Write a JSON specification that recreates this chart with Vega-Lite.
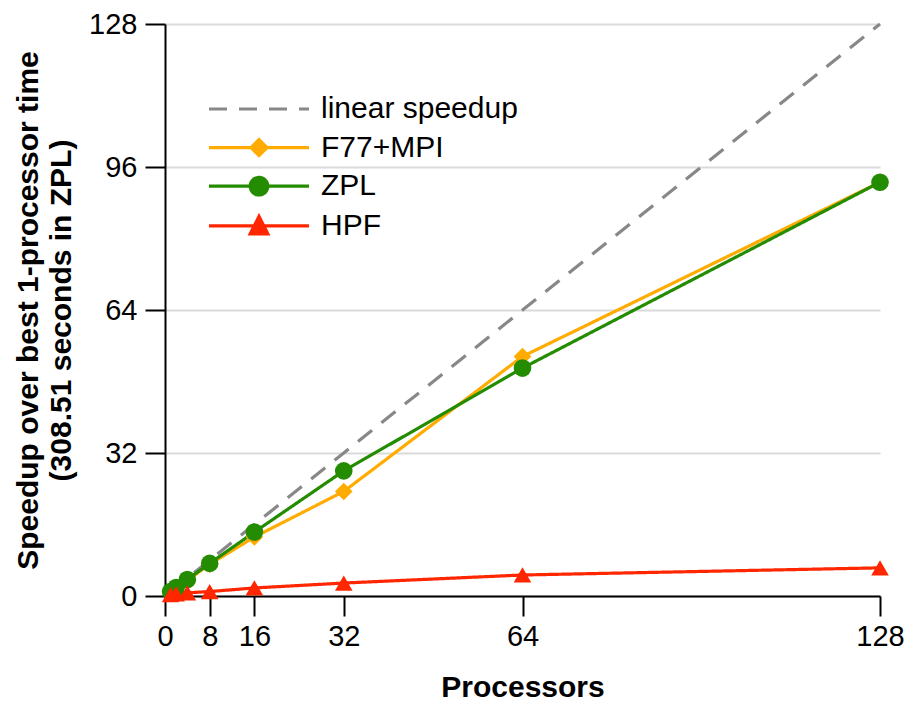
{
  "$schema": "https://vega.github.io/schema/vega-lite/v6.json",
  "width": 715,
  "height": 572,
  "autosize": {"type": "none"},
  "padding": {"left": 165, "top": 24, "right": 28, "bottom": 107},
  "background": "white",
  "config": {
    "view": {"stroke": null},
    "font": "Liberation Sans",
    "axis": {
      "labelFont": "Liberation Sans",
      "titleFont": "Liberation Sans",
      "labelFontSize": 29,
      "titleFontSize": 30,
      "titleFontWeight": "bold",
      "labelColor": "black",
      "titleColor": "black",
      "domainColor": "black",
      "domainWidth": 2,
      "tickColor": "black",
      "tickWidth": 2,
      "tickSize": 20
    }
  },
  "data": {
    "values": [
      {"p": 1, "s": 1, "series": "linear speedup"},
      {"p": 2, "s": 2, "series": "linear speedup"},
      {"p": 4, "s": 4, "series": "linear speedup"},
      {"p": 8, "s": 8, "series": "linear speedup"},
      {"p": 16, "s": 16, "series": "linear speedup"},
      {"p": 32, "s": 32, "series": "linear speedup"},
      {"p": 64, "s": 64, "series": "linear speedup"},
      {"p": 128, "s": 128, "series": "linear speedup"},
      {"p": 1, "s": 1.0, "series": "F77+MPI"},
      {"p": 2, "s": 1.9, "series": "F77+MPI"},
      {"p": 4, "s": 3.5, "series": "F77+MPI"},
      {"p": 8, "s": 7.1, "series": "F77+MPI"},
      {"p": 16, "s": 13.2, "series": "F77+MPI"},
      {"p": 32, "s": 23.4, "series": "F77+MPI"},
      {"p": 64, "s": 53.6, "series": "F77+MPI"},
      {"p": 128, "s": 92.6, "series": "F77+MPI"},
      {"p": 1, "s": 1.0, "series": "ZPL"},
      {"p": 2, "s": 1.9, "series": "ZPL"},
      {"p": 4, "s": 3.7, "series": "ZPL"},
      {"p": 8, "s": 7.3, "series": "ZPL"},
      {"p": 16, "s": 14.3, "series": "ZPL"},
      {"p": 32, "s": 28.0, "series": "ZPL"},
      {"p": 64, "s": 51.0, "series": "ZPL"},
      {"p": 128, "s": 92.6, "series": "ZPL"},
      {"p": 1, "s": 0.3, "series": "HPF"},
      {"p": 2, "s": 0.5, "series": "HPF"},
      {"p": 4, "s": 0.7, "series": "HPF"},
      {"p": 8, "s": 1.0, "series": "HPF"},
      {"p": 16, "s": 1.8, "series": "HPF"},
      {"p": 32, "s": 2.9, "series": "HPF"},
      {"p": 64, "s": 4.7, "series": "HPF"},
      {"p": 128, "s": 6.3, "series": "HPF"}
    ]
  },
  "layer": [
    {
      "mark": {"type": "line", "strokeWidth": 3.2},
      "encoding": {
        "x": {
          "field": "p", "type": "quantitative",
          "scale": {"domain": [0, 128], "nice": false, "zero": true},
          "axis": {"values": [0, 8, 16, 32, 64, 128], "grid": false, "title": "Processors", "labelPadding": 6, "titlePadding": 21, "labelFlush": false}
        },
        "y": {
          "field": "s", "type": "quantitative",
          "scale": {"domain": [0, 128], "nice": false},
          "axis": {"values": [0, 32, 64, 96, 128], "grid": true, "gridColor": "#dadada", "gridWidth": 2, "title": ["Speedup over best 1-processor time", "(308.51 seconds in ZPL)"], "titleLineHeight": 33, "labelPadding": 8, "titlePadding": 12, "labelFlush": false}
        },
        "color": {
          "field": "series", "type": "nominal",
          "scale": {"domain": ["linear speedup", "F77+MPI", "ZPL", "HPF"], "range": ["#888888", "#ffab00", "#248c00", "#ff2600"]},
          "sort": ["linear speedup", "F77+MPI", "ZPL", "HPF"],
          "legend": {
            "orient": "none",
            "legendX": 72,
            "legendY": 63,
            "title": null,
            "padding": 0,
            "symbolSize": 1600,
            "symbolStrokeWidth": 3.2,
            "labelFontSize": 30,
            "labelFont": "Liberation Sans",
            "labelColor": "black",
            "labelLimit": 400,
            "labelOffset": 40,
            "rowPadding": 1.6,
            "encode": {
              "symbols": {
                "update": {
                  "shape": {"signal": "datum.value === 'F77+MPI' ? 'M-2.5,0H2.5M0,-0.4L0.4,0L0,0.4L-0.4,0Z' : datum.value === 'ZPL' ? 'M-2.5,0H2.5M0.44,0A0.44,0.44,0,1,1,-0.44,0A0.44,0.44,0,1,1,0.44,0Z' : datum.value === 'HPF' ? 'M-2.5,0H2.5M0,-0.47L0.44,0.4L-0.44,0.4Z' : 'M-2.5,0H2.5'"},
                  "strokeDash": {"signal": "datum.value === 'linear speedup' ? [19, 13] : [1, 0]"},
                  "fill": {"signal": "scale('color', datum.value)"},
                  "stroke": {"signal": "scale('color', datum.value)"},
                  "opacity": {"value": 1}
                }
              }
            }
          }
        },
        "strokeDash": {
          "field": "series", "type": "nominal",
          "scale": {"domain": ["linear speedup", "F77+MPI", "ZPL", "HPF"], "range": [[18, 12], [1, 0], [1, 0], [1, 0]]},
          "legend": null
        }
      }
    },
    {
      "transform": [{"filter": "datum.series !== 'linear speedup'"}],
      "mark": {"type": "point", "filled": true, "opacity": 1, "size": 310},
      "encoding": {
        "x": {"field": "p", "type": "quantitative"},
        "y": {"field": "s", "type": "quantitative"},
        "color": {"field": "series", "type": "nominal", "legend": null},
        "shape": {
          "field": "series", "type": "nominal",
          "scale": {"domain": ["F77+MPI", "ZPL", "HPF"], "range": ["diamond", "circle", "triangle-up"]},
          "legend": null
        }
      }
    }
  ]
}
